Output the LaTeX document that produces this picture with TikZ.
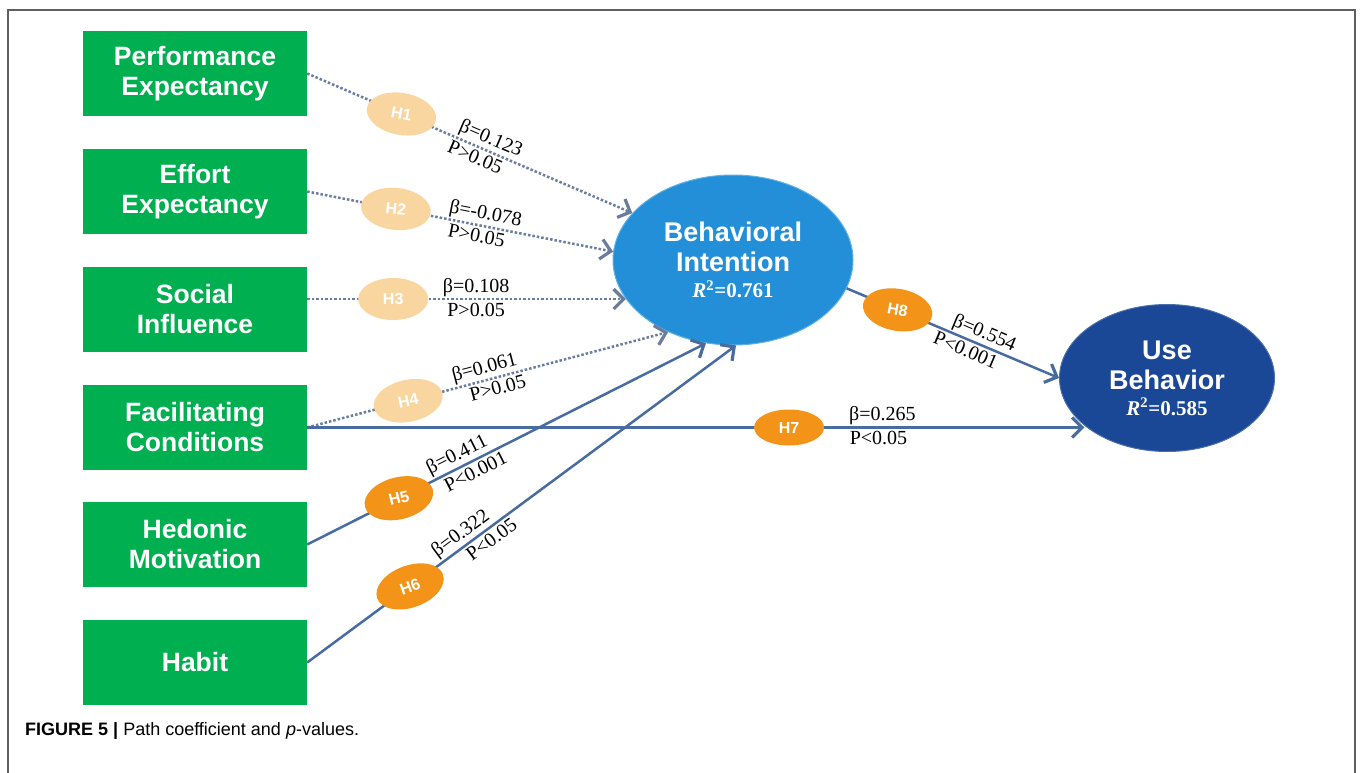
\documentclass[tikz,border=0pt]{standalone}
\usepackage{fontspec}
\setmainfont{Liberation Sans}
\newfontfamily\serifl{Liberation Serif}
\usetikzlibrary{arrows.meta,shapes.geometric}
\definecolor{boxgreen}{RGB}{0,176,80}
\definecolor{bicol}{RGB}{34,143,216}
\definecolor{ubcol}{RGB}{27,72,150}
\definecolor{hor}{RGB}{243,148,25}
\definecolor{hlight}{RGB}{249,214,160}
\definecolor{lnc}{RGB}{72,108,160}
\definecolor{dotc}{RGB}{105,125,158}
\definecolor{framec}{RGB}{95,95,95}
\begin{document}
\begin{tikzpicture}[x=1pt,y=-1pt,
  factor/.style={fill=boxgreen, minimum width=224pt, minimum height=85pt, inner sep=0pt,
    text=white, font=\fontsize{26.5}{30}\selectfont\bfseries, align=center},
  hyp/.style={ellipse, fill=hor, minimum width=70pt, minimum height=42pt, inner sep=0pt,
    text=white, font=\fontsize{16}{17}\selectfont\bfseries},
  hyplight/.style={hyp, fill=hlight},
  tipb/.tip={Straight Barb[length=10pt,width=20pt,line width=3.2pt]},
  sig/.style={draw=lnc, line width=2.5pt, -tipb},
  nsig/.style={draw=dotc, line width=2.5pt, dash pattern=on 2.5pt off 2pt, -tipb},
  coef/.style={sloped, font=\serifl\fontsize{20}{22}\selectfont, anchor=south, inner sep=1.5pt, text=black},
  pval/.style={sloped, font=\serifl\fontsize{20}{22}\selectfont, anchor=north, inner sep=2.5pt, text=black},
  latent/.style={ellipse, inner sep=0pt, text=white, align=center,
    font=\fontsize{27}{30}\selectfont\bfseries}
]
\useasboundingbox (0,0) rectangle (1360,773);
% frame
\draw[framec, line width=1.5pt] (8,773) -- (8,10) -- (1355,10) -- (1355,773);

% factor boxes
\node[factor] (b1) at (195,73.5) {Performance\\Expectancy};
\node[factor] (b2) at (195,191.5) {Effort\\Expectancy};
\node[factor] (b3) at (195,309.5) {Social\\Influence};
\node[factor] (b4) at (195,427.5) {Facilitating\\Conditions};
\node[factor] (b5) at (195,544.5) {Hedonic\\Motivation};
\node[factor] (b6) at (195,662.5) {Habit};

% latent variables
\node[latent, fill=bicol, draw=bicol!70!white, line width=1pt, minimum width=240pt, minimum height=170pt]
  (bi) at (733,260) {Behavioral\\Intention\\[-4pt]{\serifl\fontsize{21}{22}\selectfont\textbf{\textit{R}\textsuperscript{2}=0.761}}};
\node[latent, fill=ubcol, draw=ubcol!80!white, line width=1pt, minimum width=215pt, minimum height=147pt]
  (ub) at (1167,378) {Use\\Behavior\\[-4pt]{\serifl\fontsize{21}{22}\selectfont\textbf{\textit{R}\textsuperscript{2}=0.585}}};

% paths
\draw[nsig] (b1.east) -- node[pos=0.29, hyplight, rotate=-10] (h1) {H1}
  node[pos=0.55, coef] {β=0.123} node[pos=0.53, pval] {P>0.05} (bi.155);
\draw[nsig] (b2.east) -- node[pos=0.29, hyplight, rotate=-6] (h2) {H2}
  node[pos=0.575, coef] {β=-0.078} node[pos=0.56, pval] {P>0.05} (bi.176);
\draw[nsig] (b3.east |- bi.200) -- node[pos=0.27, hyplight] (h3) {H3}
  node[pos=0.53, coef] {β=0.108} node[pos=0.53, pval] {P>0.05} (bi.200);
\draw[nsig] (b4.east) -- node[pos=0.28, hyplight, rotate=12] (h4) {H4}
  node[pos=0.50, coef] {β=0.061} node[pos=0.52, pval] {P>0.05} (bi.228);
\draw[sig] (b5.east) -- node[pos=0.23, hyp, rotate=14] (h5) {H5}
  node[pos=0.39, coef] {β=0.411} node[pos=0.41, pval] {P<0.001} (bi.252);
\draw[sig] (b6.east) -- node[pos=0.24, hyp, rotate=20] (h6) {H6}
  node[pos=0.375, coef] {β=0.322} node[pos=0.415, pval] {P<0.05} (bi.272);
\draw[sig] (b4.east) -- node[pos=0.62, hyp, minimum height=36pt] (h7) {H7}
  node[pos=0.74, coef] {β=0.265} node[pos=0.735, pval] {P<0.05} (b4.east -| ub.210);
\draw[sig] (bi.346) -- node[pos=0.24, hyp, rotate=-10] (h8) {H8}
  node[pos=0.626, coef] {β=0.554} node[pos=0.58, pval] {P<0.001} (ub.west);

% caption
\node[anchor=base west, inner sep=0pt, font=\fontsize{18}{20}\selectfont] (cap) at (25,735)
  {\textbf{FIGURE 5 |} Path coefficient and \textit{p}-values.};
\end{tikzpicture}
\end{document}
